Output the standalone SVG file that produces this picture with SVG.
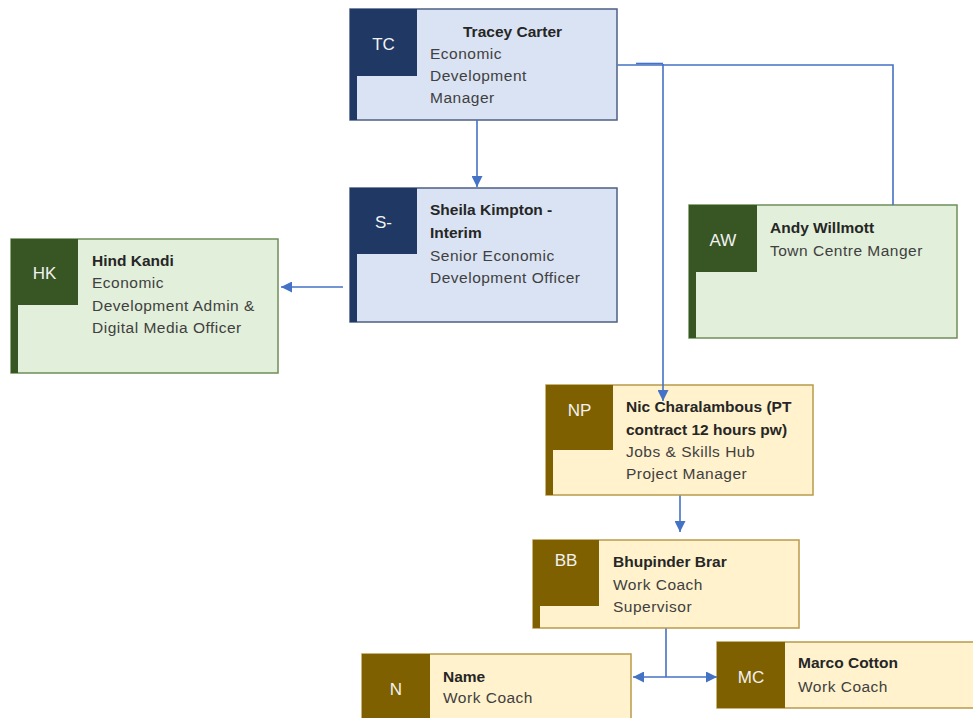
<svg xmlns="http://www.w3.org/2000/svg" width="973" height="718" viewBox="0 0 973 718">
<defs>
<marker id="ah" viewBox="0 0 10 10" refX="10" refY="5" markerWidth="11" markerHeight="11" markerUnits="userSpaceOnUse" orient="auto-start-reverse"><path d="M0,0 L10,5 L0,10 z" fill="#4472C4"/></marker>
<style>
.t{font-family:"Liberation Sans",Arial,sans-serif;font-size:15.5px;fill:#404040;letter-spacing:0.5px}
.b{font-family:"Liberation Sans",Arial,sans-serif;font-size:15.5px;font-weight:bold;fill:#262626}
.i{font-family:"Liberation Sans",Arial,sans-serif;font-size:17px;fill:#f2f2f2;text-anchor:middle}
.bl .box{fill:#DAE3F3;stroke:#4E5F82;stroke-width:1.5}
.bl .dk{fill:#1F3864}
.gr .box{fill:#E2EFDA;stroke:#6F8E5A;stroke-width:1.5}
.gr .dk{fill:#375623}
.br .box{fill:#FFF2CC;stroke:#B89A4A;stroke-width:1.5}
.br .dk{fill:#7F6000}
.c{fill:none;stroke:#4472C4;stroke-width:1.6}
</style>
</defs>
<rect width="973" height="718" fill="#ffffff"/>
<g id="node-tc" class="bl">
<rect class="box" x="350" y="9" width="267" height="111"/>
<rect class="dk" x="350" y="9" width="67" height="67"/>
<rect class="dk" x="350" y="9" width="7" height="111"/>
<text class="i" x="383.5" y="50">TC</text>
<text class="b" x="463" y="37">Tracey Carter</text>
<text class="t" x="430" y="59">Economic</text>
<text class="t" x="430" y="81">Development</text>
<text class="t" x="430" y="103">Manager</text>
</g>
<g id="node-s" class="bl">
<rect class="box" x="350" y="188" width="267" height="134"/>
<rect class="dk" x="350" y="188" width="67" height="66"/>
<rect class="dk" x="350" y="188" width="7" height="134"/>
<text class="i" x="383.5" y="228">S-</text>
<text class="b" x="430" y="215">Sheila Kimpton -</text>
<text class="b" x="430" y="238">Interim</text>
<text class="t" x="430" y="261">Senior Economic</text>
<text class="t" x="430" y="283">Development Officer</text>
</g>
<g id="node-hk" class="gr">
<rect class="box" x="11" y="239" width="267" height="134"/>
<rect class="dk" x="11" y="239" width="67" height="66"/>
<rect class="dk" x="11" y="239" width="7" height="134"/>
<text class="i" x="44.5" y="279">HK</text>
<text class="b" x="92" y="266">Hind Kandi</text>
<text class="t" x="92" y="288">Economic</text>
<text class="t" x="92" y="311">Development Admin &amp;</text>
<text class="t" x="92" y="333">Digital Media Officer</text>
</g>
<g id="node-aw" class="gr">
<rect class="box" x="689" y="205" width="268" height="133"/>
<rect class="dk" x="689" y="205" width="68" height="67"/>
<rect class="dk" x="689" y="205" width="7" height="133"/>
<text class="i" x="723" y="246">AW</text>
<text class="b" x="770" y="233">Andy Willmott</text>
<text class="t" x="770" y="256">Town Centre Manger</text>
</g>
<g id="node-np" class="br">
<rect class="box" x="546" y="385" width="267" height="110"/>
<rect class="dk" x="546" y="385" width="67" height="65"/>
<rect class="dk" x="546" y="385" width="7" height="110"/>
<text class="i" x="579.5" y="416">NP</text>
<text class="b" x="626" y="412">Nic Charalambous (PT</text>
<text class="b" x="626" y="435">contract 12 hours pw)</text>
<text class="t" x="626" y="457">Jobs &amp; Skills Hub</text>
<text class="t" x="626" y="479">Project Manager</text>
</g>
<g id="node-bb" class="br">
<rect class="box" x="533" y="540" width="266" height="88"/>
<rect class="dk" x="533" y="540" width="66" height="66"/>
<rect class="dk" x="533" y="540" width="7" height="88"/>
<text class="i" x="566" y="566">BB</text>
<text class="b" x="613" y="567">Bhupinder Brar</text>
<text class="t" x="613" y="590">Work Coach</text>
<text class="t" x="613" y="612">Supervisor</text>
</g>
<g id="node-n" class="br">
<rect class="box" x="362" y="654" width="269" height="80"/>
<rect class="dk" x="362" y="654" width="68" height="80"/>
<text class="i" x="396" y="695">N</text>
<text class="b" x="443" y="682">Name</text>
<text class="t" x="443" y="703">Work Coach</text>
</g>
<g id="node-mc" class="br">
<rect class="box" x="717" y="642" width="262" height="66"/>
<rect class="dk" x="717" y="642" width="68" height="66"/>
<text class="i" x="751" y="683">MC</text>
<text class="b" x="798" y="668">Marco Cotton</text>
<text class="t" x="798" y="692">Work Coach</text>
</g>
<g id="connectors">
<path class="c" d="M477,120 V187" marker-end="url(#ah)"/>
<path class="c" d="M343,287 H281" marker-end="url(#ah)"/>
<path class="c" d="M617.5,65 H893 V205"/>
<path class="c" d="M636,63.5 H663" stroke-width="3"/>
<path class="c" d="M663,64 V401" marker-end="url(#ah)"/>
<path class="c" d="M680,495.5 V532" marker-end="url(#ah)"/>
<path class="c" d="M666,628.5 V677"/>
<path class="c" d="M633,677 H717" marker-start="url(#ah)" marker-end="url(#ah)"/>
</g>
</svg>
